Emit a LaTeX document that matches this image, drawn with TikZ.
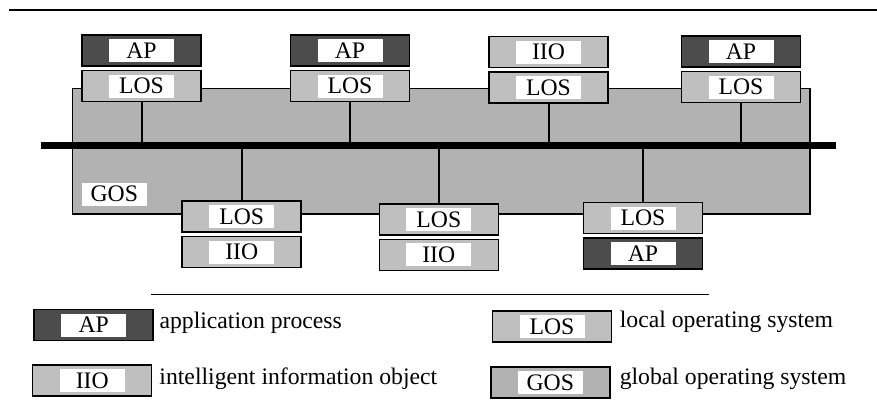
\documentclass[tikz,border=0pt]{standalone}
\usepackage{fontspec}
\setmainfont{Liberation Serif}
\usetikzlibrary{positioning, fit, backgrounds}

\definecolor{apgray}{gray}{0.30}
\definecolor{losgray}{gray}{0.75}
\definecolor{gosgray}{gray}{0.70}

\begin{document}
\begin{tikzpicture}[
    x=0.5pt, y=-0.5pt,
    node distance=1.5pt,
    unitbox/.style={rectangle, draw, line width=0.75pt, fill=#1, minimum width=59.5pt, minimum height=15.5pt, inner sep=0pt,
        font=\fontsize{11.85}{13}\selectfont,
        path picture={\fill[white] ([xshift=-16.25pt, yshift=-5.75pt]path picture bounding box.center) rectangle ++(32.5pt,11.5pt);}},
    apbox/.style={unitbox=apgray},
    losbox/.style={unitbox=losgray},
    iiobox/.style={unitbox=losgray},
    gosbox/.style={unitbox=gosgray},
    gosarea/.style={rectangle, draw, line width=0.75pt, fill=gosgray, inner sep=0pt},
    whitelabel/.style={rectangle, fill=white, minimum width=32.5pt, minimum height=11.5pt, inner sep=0pt, font=\fontsize{11.85}{13}\selectfont},
    legtext/.style={anchor=base west, inner sep=0pt, font=\fontsize{11.85}{13}\selectfont},
    link/.style={line width=1pt},
    busline/.style={line width=3.5pt},
    rule/.style={line width=0.7pt}
]
\useasboundingbox (0,0) rectangle (877,409);

% ============ TOP RULE ============
\coordinate (ruleL) at (9,10);
\coordinate (ruleR) at (877,10);
\draw[rule] (ruleL) -- (ruleR);

% ============ GOS AREA + BUS ============
\coordinate (gosNW) at (72.7,88.7);
\coordinate (gosSE) at (810,214);
\coordinate (busL) at (40.7,145.7);
\coordinate (busR) at (835.7,145.7);

% upper stations
\node[apbox] (ap1) at (141.5,50.5) {AP};
\node[losbox, below=of ap1] (los1) {LOS};
\node[apbox] (ap2) at (350,50.5) {AP};
\node[losbox, below=of ap2] (los2) {LOS};
\node[iiobox] (iio3) at (548.5,52) {IIO};
\node[losbox, below=of iio3] (los3) {LOS};
\node[apbox] (ap4) at (741,51.5) {AP};
\node[losbox, below=of ap4] (los4) {LOS};

% lower stations
\node[losbox] (los5) at (241.7,216.7) {LOS};
\node[iiobox, below=of los5] (iio5) {IIO};
\node[losbox] (los6) at (438.8,219.3) {LOS};
\node[iiobox, below=of los6] (iio6) {IIO};
\node[losbox] (los7) at (643,218) {LOS};
\node[apbox, below=of los7] (ap7) {AP};

\node[whitelabel] (goslabel) at (114.3,194.2) {GOS};

% links to the bus
\draw[link] (los1) -- (los1 |- busL);
\draw[link] (los2) -- (los2 |- busL);
\draw[link] (los3) -- (los3 |- busL);
\draw[link] (los4) -- (los4 |- busL);
\draw[link] (los5 |- busL) -- (los5);
\draw[link] (los6 |- busL) -- (los6);
\draw[link] (los7 |- busL) -- (los7);
\draw[busline] (busL) -- (busR);

\begin{scope}[on background layer]
    \node[gosarea, fit=(gosNW)(gosSE)] (gos) {};
\end{scope}

% ============ LEGEND ============
\coordinate (sepL) at (151,294.3);
\coordinate (sepR) at (709.3,294.3);
\draw[line width=0.6pt] (sepL) -- (sepR);

\node[apbox] (legap) at (93.7,325) {AP};
\node[legtext] (legaptxt) at ([xshift=2.6pt, yshift=-1.5pt]legap.east) {application process};
\node[iiobox] (legiio) at (92.2,380.7) {IIO};
\node[legtext] (legiiotxt) at ([xshift=3.3pt, yshift=-1.8pt]legiio.east) {intelligent information object};
\node[losbox] (leglos) at (552,326.7) {LOS};
\node[legtext] (leglostxt) at ([xshift=3.6pt, yshift=-0.3pt]leglos.east) {local operating system};
\node[gosbox] (leggos) at (550.3,382.3) {GOS};
\node[legtext] (leggostxt) at ([xshift=4.4pt, yshift=-1pt]leggos.east) {global operating system};

\end{tikzpicture}
\end{document}
